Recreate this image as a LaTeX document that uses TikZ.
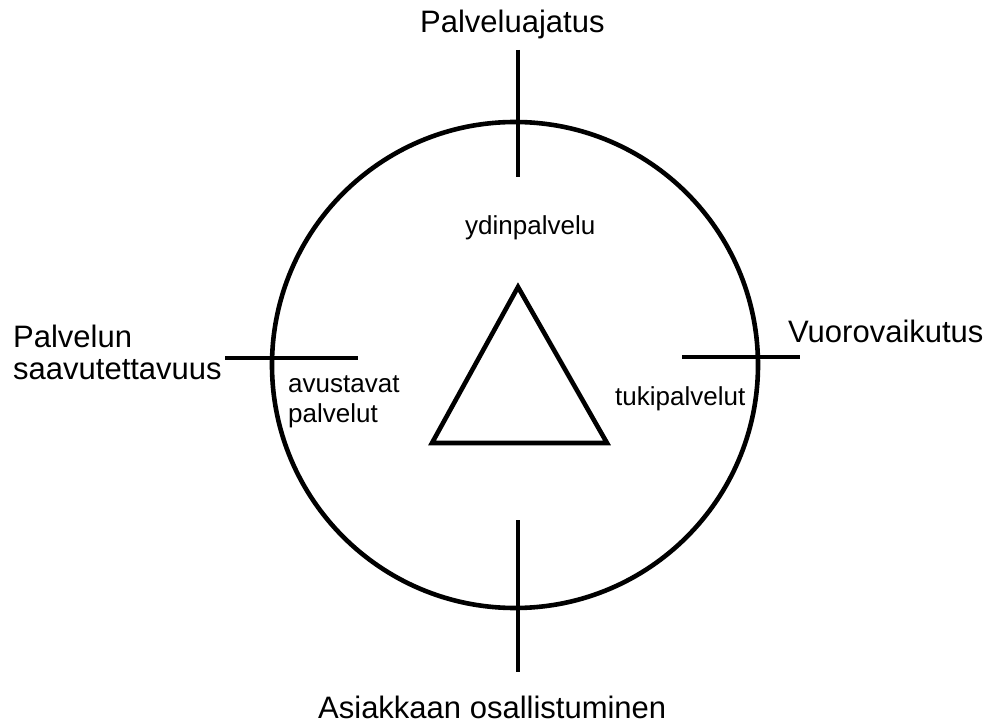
\documentclass[tikz,border=0pt]{standalone}
\usepackage{fontspec}
\setmainfont{Liberation Sans}
\begin{document}
\begin{tikzpicture}[x=1pt,y=-1pt,
  big/.style={font=\fontsize{31}{32}\selectfont,inner sep=0pt,anchor=base west},
  small/.style={font=\fontsize{26}{28}\selectfont,inner sep=0pt,anchor=base west},
  stroke/.style={line width=4.6pt,black}]
\useasboundingbox (0,0) rectangle (994,727);
% circle
\node[stroke,draw,circle,minimum size=486pt,inner sep=0pt] (ring) at (515,365) {};
% triangle
\coordinate (tA) at (518,287);
\coordinate (tB) at (432,443);
\coordinate (tC) at (607,443);
\draw[stroke,line join=miter] (tA) -- (tB) -- (tC) -- cycle;
% ticks
\coordinate (t1) at (518,50);  \coordinate (t2) at (518,177);
\coordinate (b1) at (518,520); \coordinate (b2) at (518,672);
\coordinate (l1) at (225,358); \coordinate (l2) at (358,358);
\coordinate (r1) at (682,357); \coordinate (r2) at (800,357);
\draw[stroke] (t1) -- (t2);
\draw[stroke] (b1) -- (b2);
\draw[stroke] (l1) -- (l2);
\draw[stroke] (r1) -- (r2);
% labels
\node[big] (top) at (420,33) {Palveluajatus};
\node[big] (left1) at (13,348) {Palvelun};
\node[big] (left2) at (13,380) {saavutettavuus};
\node[big] (right) at (788,343) {Vuorovaikutus};
\node[big] (bottom) at (318,718) {Asiakkaan osallistuminen};
\node[small] (core) at (465,235) {ydinpalvelu};
\node[small] (aux1) at (288,393) {avustavat};
\node[small] (aux2) at (288,423) {palvelut};
\node[small] (sup) at (615,406) {tukipalvelut};
\end{tikzpicture}
\end{document}
